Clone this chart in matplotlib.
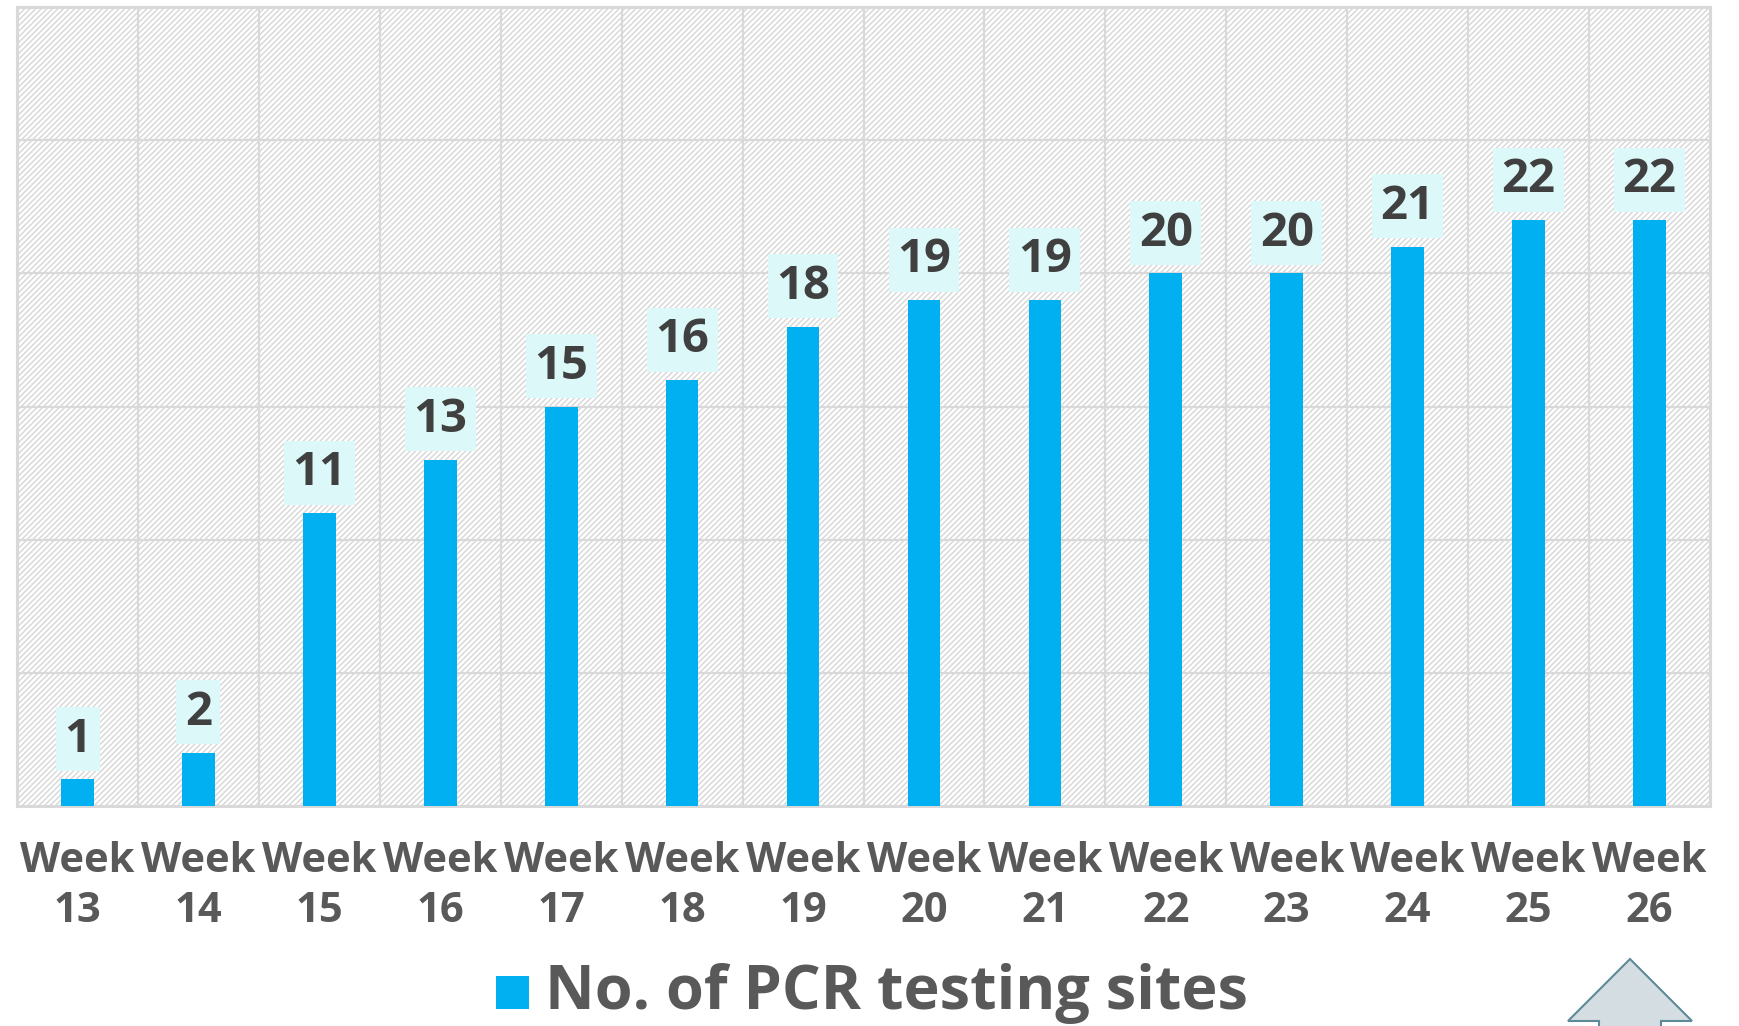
import matplotlib.pyplot as plt
from matplotlib.patches import Rectangle, Polygon

plt.rcParams['font.family'] = ['Open Sans', 'DejaVu Sans']
plt.rcParams['hatch.color'] = '#d6d6d6'
plt.rcParams['hatch.linewidth'] = 1.0

weeks = ["Week\n13", "Week\n14", "Week\n15", "Week\n16", "Week\n17", "Week\n18", "Week\n19",
         "Week\n20", "Week\n21", "Week\n22", "Week\n23", "Week\n24", "Week\n25", "Week\n26"]
sites = [1, 2, 11, 13, 15, 16, 18, 19, 19, 20, 20, 21, 22, 22]
series_name = "No. of PCR testing sites"

bar_color = '#00B0F0'
grid_color = '#d9d9d9'
text_color = '#595959'

fig = plt.figure(figsize=(17.39, 10.26), dpi=100)
ax = fig.add_axes([0.0098, 0.2144, 0.9735, 0.7788])

x = list(range(len(sites)))

# hatched background
ax.add_patch(Rectangle((0, 0), 1, 1, transform=ax.transAxes, facecolor='white',
                       hatch='//////', edgecolor='#d6d6d6', linewidth=0, zorder=0))

ax.bar(x, sites, width=0.27, color=bar_color, zorder=3)

ax.set_xlim(-0.5, len(sites) - 0.5)
ax.set_ylim(0, 30)

# grid
for yv in range(5, 30, 5):
    ax.axhline(yv, color=grid_color, linewidth=1.6, zorder=1)
for xv in range(len(sites) - 1):
    ax.axvline(xv + 0.5, color=grid_color, linewidth=1.6, zorder=1)
for s in ax.spines.values():
    s.set_color(grid_color)
    s.set_linewidth(2.2)

ax.set_yticks([])
ax.set_xticks(x)
ax.set_xticklabels(weeks, fontsize=30, fontweight='bold', color=text_color, linespacing=1.3)
ax.tick_params(axis='x', length=0, pad=25)

# data labels
for xi, v in zip(x, sites):
    ax.annotate(str(v), (xi, v), xytext=(0, 29), textcoords='offset points',
                ha='center', va='center', fontsize=34, fontweight='bold', color='#404040',
                bbox=dict(boxstyle='square,pad=0.18', facecolor='#DDF8F8', edgecolor='none'),
                zorder=4)

# legend
fig.patches.append(Rectangle((496 / 1739, 1 - 1009 / 1026), 33 / 1739, 33 / 1026,
                             transform=fig.transFigure, facecolor=bar_color, edgecolor='none'))
fig.text(545 / 1739, 1 - 993 / 1026, series_name, fontsize=44, fontweight='bold',
         color=text_color, ha='left', va='center')

# arrow shape at bottom right
pts = [(1630, 959), (1692, 1021), (1661, 1021), (1661, 1030), (1599, 1030), (1599, 1021), (1568, 1021)]
fig.patches.append(Polygon([(px / 1739, 1 - py / 1026) for px, py in pts], closed=True,
                           transform=fig.transFigure, facecolor='#d3dde2', edgecolor='#5f8a99',
                           linewidth=1.5))

fig.savefig('out.png', dpi=100)
